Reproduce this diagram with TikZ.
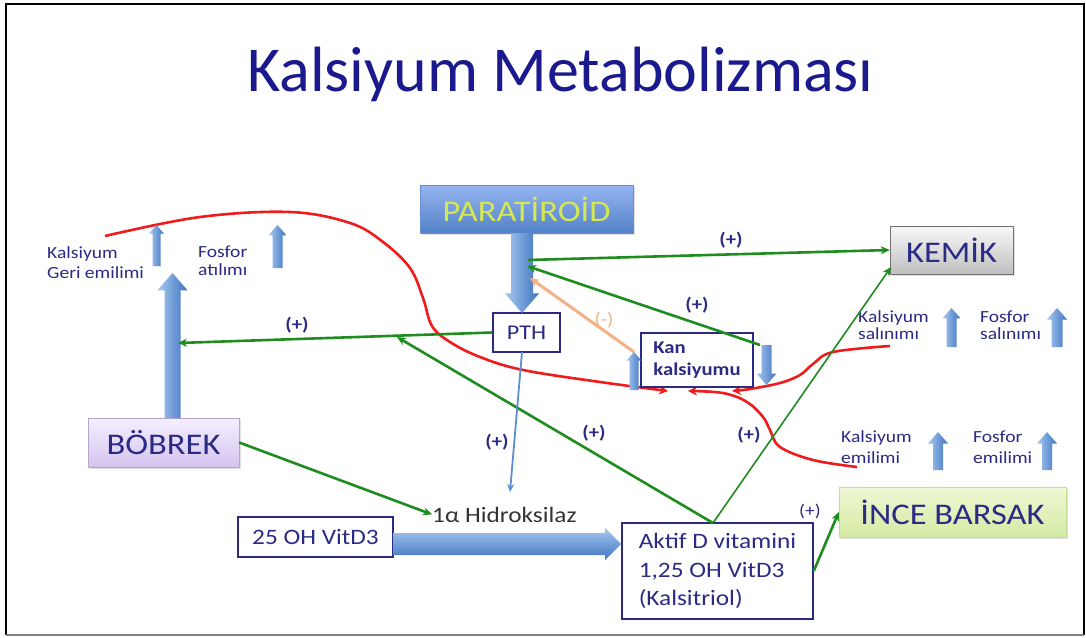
\documentclass[tikz,border=0pt]{standalone}
\usepackage{fontspec}
\setmainfont{Carlito}[FakeStretch=1.15]
\newfontfamily\titlefont{Carlito}
\usetikzlibrary{arrows.meta,shadows}
\definecolor{navy}{HTML}{2B2B85}
\definecolor{titleblue}{HTML}{1A1A8E}
\definecolor{gline}{HTML}{1E8C1E}
\definecolor{rline}{HTML}{EE1C1C}
\definecolor{oline}{HTML}{F4B183}
\definecolor{bluedark}{HTML}{3F74C0}
\definecolor{bluelight}{HTML}{A6C8F0}
\definecolor{thinblue}{HTML}{5B8FD0}
\newcommand\upblk[5]{% x, tip y, bottom y, shaft half, head half
  \shade[blk] ({#1-#4},#3) -- ({#1-#4},{#2+#5*1.15}) -- ({#1-#5},{#2+#5*1.15}) -- (#1,#2) -- ({#1+#5},{#2+#5*1.15}) -- ({#1+#4},{#2+#5*1.15}) -- ({#1+#4},#3) -- cycle;}
\newcommand\dnblk[5]{% x, tip y, top y, shaft half, head half
  \shade[blk] ({#1-#4},#3) -- ({#1-#4},{#2-#5*1.15}) -- ({#1-#5},{#2-#5*1.15}) -- (#1,#2) -- ({#1+#5},{#2-#5*1.15}) -- ({#1+#4},{#2-#5*1.15}) -- ({#1+#4},#3) -- cycle;}
\tikzset{
  blk/.style={left color=bluelight, right color=bluedark, draw=none},
  outbox/.style={draw=navy, line width=1.5pt, fill=white, inner sep=0pt, text=navy},
  bigbox/.style={inner sep=0pt, font=\fontsize{30}{32}\selectfont, drop shadow={opacity=0.25, shadow xshift=1.5pt, shadow yshift=-1.5pt}},
  gr/.style={draw=gline, line width=2.6pt, -{Stealth[length=9pt,width=8pt]}},
  grthin/.style={draw=gline, line width=1.6pt, -{Stealth[length=9pt,width=8pt]}},
  rd/.style={draw=rline, line width=2.6pt, -{Stealth[length=9pt,width=9pt]}},
  plus/.style={text=navy, font=\bfseries\fontsize{18}{20}\selectfont, inner sep=0pt},
  small/.style={text=navy, font=\fontsize{17}{18}\selectfont, inner sep=0pt, anchor=base west},
}
\begin{document}
\begin{tikzpicture}[x=1pt,y=-1pt]
\useasboundingbox (0,0) rectangle (1086,637);
\fill[white] (0,0) rectangle (1086,637);
% frame
\draw[line width=2.5pt] (6,635) -- (6,4) -- (1084,4) -- (1084,635);
\draw[line width=2pt, gray] (6,635) -- (1084,635);

% title
\node[anchor=base, inner sep=0pt, text=titleblue, font=\titlefont\fontsize{64}{66}\selectfont] (title) at (560.5,91.5) {Kalsiyum Metabolizması};

% red curves (behind)
\coordinate (r1s) at (105,236);
\coordinate (r1e) at (668,391);
\draw[rd] plot[smooth, tension=0.6] coordinates {(r1s) (200,217) (290,212) (350,223) (383,242) (410,268) (423,298) (432,326) (450,342) (480,357) (523,370) (600,382) (r1e)};
\coordinate (r2s) at (890,346);
\coordinate (r2e) at (732,391);
\draw[rd] plot[smooth, tension=0.6] coordinates {(r2s) (833,352) (813,364) (800,375) (780,383) (750,389) (r2e)};
\coordinate (r3s) at (857,467);
\coordinate (r3e) at (688,391);
\draw[rd] plot[smooth, tension=0.6] coordinates {(r3s) (813,460) (780,447) (770,430) (763,417) (747,402) (723,393) (r3e)};

% boxes
\node[bigbox, minimum width=213pt, minimum height=48pt, top color=blue!10!bluelight, bottom color=bluedark!90, draw=bluedark!80, text={rgb,255:red,214;green,232;blue,80}] (para) at (526.5,209) {PARATİROİD};
\node[outbox, minimum width=67pt, minimum height=39pt, font=\fontsize{21}{22}\selectfont] (pth) at (526.5,332.5) {PTH};
\node[outbox, minimum width=112pt, minimum height=54pt, align=left, font=\bfseries\fontsize{18}{22}\selectfont] (kan) at (697,360) {Kan\\kalsiyumu};
\node[bigbox, minimum width=123pt, minimum height=48pt, top color=white!95!gray, bottom color=gray!50, draw=gray!90!black, text=navy] (kemik) at (951.5,250) {KEMİK};
\node[bigbox, minimum width=151pt, minimum height=49pt, top color={rgb,255:red,245;green,239;blue,255}, bottom color={rgb,255:red,212;green,196;blue,238}, draw={rgb,255:red,180;green,165;blue,204}, text=navy] (bobrek) at (163.5,442.5) {BÖBREK};
\node[bigbox, minimum width=227pt, minimum height=50pt, top color={rgb,255:red,240;green,248;blue,212}, bottom color={rgb,255:red,212;green,234;blue,164}, draw={rgb,255:red,196;green,220;blue,150}, text=navy] (ince) at (952.5,512) {İNCE BARSAK};
\node[outbox, minimum width=155pt, minimum height=40pt, font=\fontsize{22}{24}\selectfont] (vit25) at (315.5,537) {25 OH VitD3};
\node[outbox, minimum width=191pt, minimum height=96pt, align=left, font=\fontsize{22}{28.5}\selectfont] (aktif) at (717.5,571) {Aktif D vitamini\\1,25 OH VitD3\\(Kalsitriol)};
\node[anchor=base west, inner sep=0pt, text=black!80, font=\fontsize{22}{24}\selectfont] (hidro) at (432,522) {1α Hidroksilaz};

% small labels
\node[small] (kg1) at (47,258) {Kalsiyum};
\node[small] (kg2) at (47,278) {Geri emilimi};
\node[small] (fa1) at (198,257) {Fosfor};
\node[small] (fa2) at (198,275) {atılımı};
\node[small] (ks1) at (858,322) {Kalsiyum};
\node[small] (ks2) at (858,339) {salınımı};
\node[small] (fs1) at (980,322) {Fosfor};
\node[small] (fs2) at (980,339) {salınımı};
\node[small] (ke1) at (841,442) {Kalsiyum};
\node[small] (ke2) at (841,463) {emilimi};
\node[small] (fe1) at (973,442) {Fosfor};
\node[small] (fe2) at (973,463) {emilimi};

% block arrows
\upblk{156.5}{225}{266}{4}{7.5}
\upblk{277.5}{225}{268}{5}{9}
\upblk{172.5}{273}{418}{8}{15}
\upblk{951.5}{308}{347}{5}{9}
\upblk{1057}{308}{347}{5.5}{10}
\upblk{938}{432}{470}{5}{10}
\upblk{1047}{432}{470}{5}{10}
\upblk{634}{352}{390}{4.5}{7.5}
\dnblk{766.5}{385}{345}{5}{10}
\dnblk{522}{313}{233}{11}{17}
\shade[top color=bluelight, bottom color=bluedark] (393,533) -- (605,533) -- (605,528) -- (621,544) -- (605,560) -- (605,555) -- (393,555) -- cycle;

% connection points
\coordinate (bkarr) at (178,343);
\coordinate (parr1) at (528,260);
\coordinate (parr2) at (527,266);
\coordinate (parr3) at (530,278);
\coordinate (kandn) at (760,345);
\coordinate (kanup) at (634,352);
\coordinate (akt) at (713,523);
\coordinate (g1mid) at (397,337);
\coordinate (kemsw) at (891,267);
\coordinate (hidtop) at (510,492);
\coordinate (pthb) at (522,352);

% green connectors
\draw[gr] (pth.west) -- (bkarr);
\draw[gr] (parr1) -- (kemik.west);
\draw[gr] (kandn) -- (parr2);
\draw[draw=oline, line width=3pt, -{Stealth[length=9pt,width=8pt]}] (kanup) -- (parr3);
\draw[gr] (akt) -- (g1mid);
\draw[grthin] (akt) -- (kemsw);
\draw[gr] (bobrek.east) -- (hidro.west);
\draw[gr] (aktif.east) -- (ince.west);
\draw[draw=thinblue, line width=1.8pt, -{Stealth[length=8pt,width=7pt]}] (pthb) -- (hidtop);

% labels
\node[plus] (p1) at (297,325) {(+)};
\node[plus] (p2) at (731,240) {(+)};
\node[plus] (p3) at (697,305) {(+)};
\node[text=oline, font=\fontsize{18}{20}\selectfont, inner sep=0pt] (m1) at (604,320) {(-)};
\node[plus] (p4) at (594,433) {(+)};
\node[plus] (p5) at (497,442) {(+)};
\node[plus] (p6) at (749,435) {(+)};
\node[text=navy, font=\fontsize{17}{18}\selectfont, inner sep=0pt] (p7) at (810,511) {(+)};
\end{tikzpicture}
\end{document}
